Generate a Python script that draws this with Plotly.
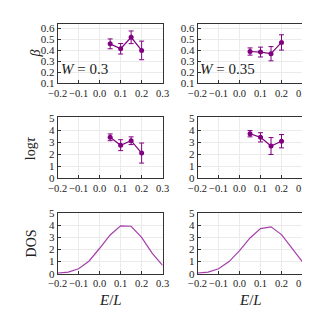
import plotly.graph_objects as go

# ---- data ----
E_pts = [0.05, 0.10, 0.15, 0.20]
beta_W030 = [0.46, 0.415, 0.52, 0.40]
beta_W030_err = [0.045, 0.048, 0.058, 0.085]
beta_W035 = [0.39, 0.385, 0.37, 0.473]
beta_W035_err = [0.033, 0.045, 0.065, 0.07]
logtau_W030 = [3.40, 2.75, 3.12, 2.10]
logtau_W030_err = [0.28, 0.45, 0.32, 0.83]
logtau_W035 = [3.70, 3.40, 2.68, 3.08]
logtau_W035_err = [0.26, 0.38, 0.70, 0.55]
E_dos = [-0.20, -0.15, -0.10, -0.05, 0.00, 0.05, 0.10, 0.15, 0.20, 0.25, 0.30]
dos_W030 = [0.05, 0.12, 0.40, 1.05, 2.10, 3.20, 3.95, 3.92, 3.00, 1.70, 0.68]
dos_W035 = [0.05, 0.12, 0.40, 1.00, 1.90, 2.95, 3.72, 3.87, 3.23, 2.10, 0.98]
W_labels = ["0.3", "0.35"]
x_ticks = [-0.2, -0.1, 0.0, 0.1, 0.2, 0.3]

PURPLE = "#800080"
DOSC = "#a63fac"
FONT = "Liberation Serif"
W, H = 310, 313

xdom = [(42 / W, 153 / W), (190 / W, 301 / W)]
ydom = [(1 - 72 / H, 1 - 10 / H), (1 - 171 / H, 1 - 107.5 / H), (1 - 270 / H, 1 - 206.5 / H)]

fig = go.Figure()

def axis_common(**kw):
    d = dict(showline=True, mirror=True, linecolor="#333333", linewidth=1,
             ticks="inside", ticklen=3, tickcolor="#333333",
             showgrid=True, gridcolor="#ebebeb", gridwidth=1, zeroline=False,
             tickangle=0,
             tickfont=dict(family=FONT, size=11, color="#222222"))
    d.update(kw)
    return d

layout = {}
idx = 0
for r in range(3):
    for c in range(2):
        idx += 1
        xa = "xaxis" if idx == 1 else f"xaxis{idx}"
        ya = "yaxis" if idx == 1 else f"yaxis{idx}"
        layout[xa] = axis_common(domain=list(xdom[c]), anchor=f"y{idx if idx > 1 else ''}",
                                 range=[-0.2, 0.3], tickvals=x_ticks, tickformat=".1f",
                                 ticklabeloverflow="allow",
                                 tickfont=dict(family=FONT, size=10.5, color="#222222"))
        if r == 0:
            yk = dict(range=[0.1, 0.645], tickvals=[0.1, 0.2, 0.3, 0.4, 0.5, 0.6], tickformat=".1f")
        else:
            yk = dict(range=[0, 5.05], tickvals=[0, 1, 2, 3, 4, 5])
        layout[ya] = axis_common(domain=list(ydom[r]), anchor=f"x{idx if idx > 1 else ''}", **yk)

def add_err(i, y, err):
    s = "" if i == 1 else str(i)
    fig.add_trace(go.Scatter(x=E_pts, y=y, mode="lines+markers",
                             line=dict(color=PURPLE, width=1.2),
                             marker=dict(color=PURPLE, size=5),
                             error_y=dict(type="data", array=err, color=PURPLE, thickness=1, width=2.5),
                             xaxis=f"x{s}", yaxis=f"y{s}", showlegend=False))

add_err(1, beta_W030, beta_W030_err)
add_err(2, beta_W035, beta_W035_err)
add_err(3, logtau_W030, logtau_W030_err)
add_err(4, logtau_W035, logtau_W035_err)
fig.add_trace(go.Scatter(x=E_dos, y=dos_W030, mode="lines", line=dict(color=DOSC, width=1.2),
                         xaxis="x5", yaxis="y5", showlegend=False))
fig.add_trace(go.Scatter(x=E_dos, y=dos_W035, mode="lines", line=dict(color=DOSC, width=1.2),
                         xaxis="x6", yaxis="y6", showlegend=False))

ann = []
for c, wl in enumerate(W_labels):
    ann.append(dict(text=f"<i>W</i> = {wl}", x=xdom[c][0] + 0.003, y=ydom[0][0] + 0.048,
                    xref="paper", yref="paper", xanchor="left", yanchor="middle",
                    showarrow=False, font=dict(family=FONT, size=15, color="#222222")))
ylabels = ["<i>β</i>", "log<i>τ</i>", "DOS"]
for r, lab in enumerate(ylabels):
    ann.append(dict(text=lab, x=4 / W if r else 8 / W, y=(ydom[r][0] + ydom[r][1]) / 2,
                    xref="paper", yref="paper", xanchor="left", yanchor="middle",
                    textangle=-90, showarrow=False,
                    font=dict(family=FONT, size=14, color="#222222")))
for c in range(2):
    ann.append(dict(text="<i>E</i>/<i>L</i>", x=(xdom[c][0] + xdom[c][1]) / 2, y=1 - 297 / H,
                    xref="paper", yref="paper", xanchor="center", yanchor="middle",
                    showarrow=False, font=dict(family=FONT, size=15, color="#222222")))

fig.update_layout(width=W, height=H, margin=dict(l=0, r=0, t=0, b=0),
                  plot_bgcolor="white", paper_bgcolor="white", annotations=ann, **layout)
fig.write_html("out.html")
